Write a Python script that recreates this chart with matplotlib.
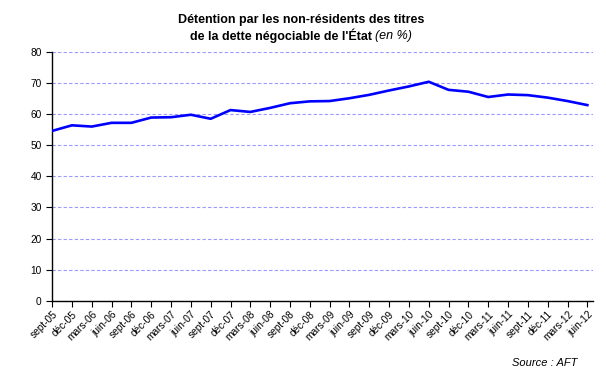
import numpy as np
import matplotlib
matplotlib.use("Agg")
from matplotlib import pyplot as plt

plt.rcParams['font.family'] = ['Liberation Sans', 'DejaVu Sans']

trimestres = ['sept-05', 'déc-05', 'mars-06', 'juin-06', 'sept-06', 'déc-06', 'mars-07',
              'juin-07', 'sept-07', 'déc-07', 'mars-08', 'juin-08', 'sept-08', 'déc-08',
              'mars-09', 'juin-09', 'sept-09', 'déc-09', 'mars-10', 'juin-10', 'sept-10',
              'déc-10', 'mars-11', 'juin-11', 'sept-11', 'déc-11', 'mars-12', 'juin-12']
part_non_residents = [54.6, 56.4, 56.0, 57.2, 57.2, 58.9, 59.0, 59.8, 58.5, 61.3,
                      60.7, 62.0, 63.5, 64.1, 64.2, 65.1, 66.2, 67.6, 68.9, 70.4,
                      67.8, 67.2, 65.5, 66.3, 66.1, 65.3, 64.2, 62.9]

fig = plt.figure(figsize=(6.06, 3.76), dpi=100)
ax = fig.add_axes([0.086, 0.2, 0.893, 0.662])

x = np.arange(len(trimestres))
ax.plot(x, part_non_residents, color='#0000FF', lw=1.9, zorder=3)

ax.set_ylim(0, 80)
ax.set_yticks(range(0, 81, 10))
ax.set_xlim(0, len(trimestres) - 0.7)
ax.set_xticks(x)
ax.set_xticklabels(trimestres, rotation=45, ha='right', rotation_mode='anchor')
ax.tick_params(axis='both', labelsize=7.3, color='black', length=4, width=0.8)
ax.tick_params(axis='x', pad=2)

ax.yaxis.grid(True, color='#9999FF', linestyle=(0, (3, 2)), lw=0.8)
ax.set_axisbelow(True)
for s in ['top', 'right']:
    ax.spines[s].set_visible(False)
ax.spines['left'].set_linewidth(1)
ax.spines['bottom'].set_linewidth(1)

fs = 9
fig.text(0.497, 0.947, 'Détention par les non-résidents des titres', ha='center', va='center',
         fontsize=fs, fontweight='bold')
# second line: bold part + italic part, centred together
t1 = fig.text(0, 0.904, "de la dette négociable de l'État ", ha='left', va='center',
              fontsize=fs, fontweight='bold')
t2 = fig.text(0, 0.904, '(en %)', ha='left', va='center', fontsize=fs, style='italic')
r = fig.canvas.get_renderer()
w1 = t1.get_window_extent(r).width / fig.bbox.width
w2 = t2.get_window_extent(r).width / fig.bbox.width
x0 = 0.497 - (w1 + w2) / 2
t1.set_x(x0)
t2.set_x(x0 + w1)

fig.text(0.952, 0.035, 'Source : AFT', ha='right', va='center', fontsize=8, style='italic')

fig.savefig('out.png', dpi=100)
